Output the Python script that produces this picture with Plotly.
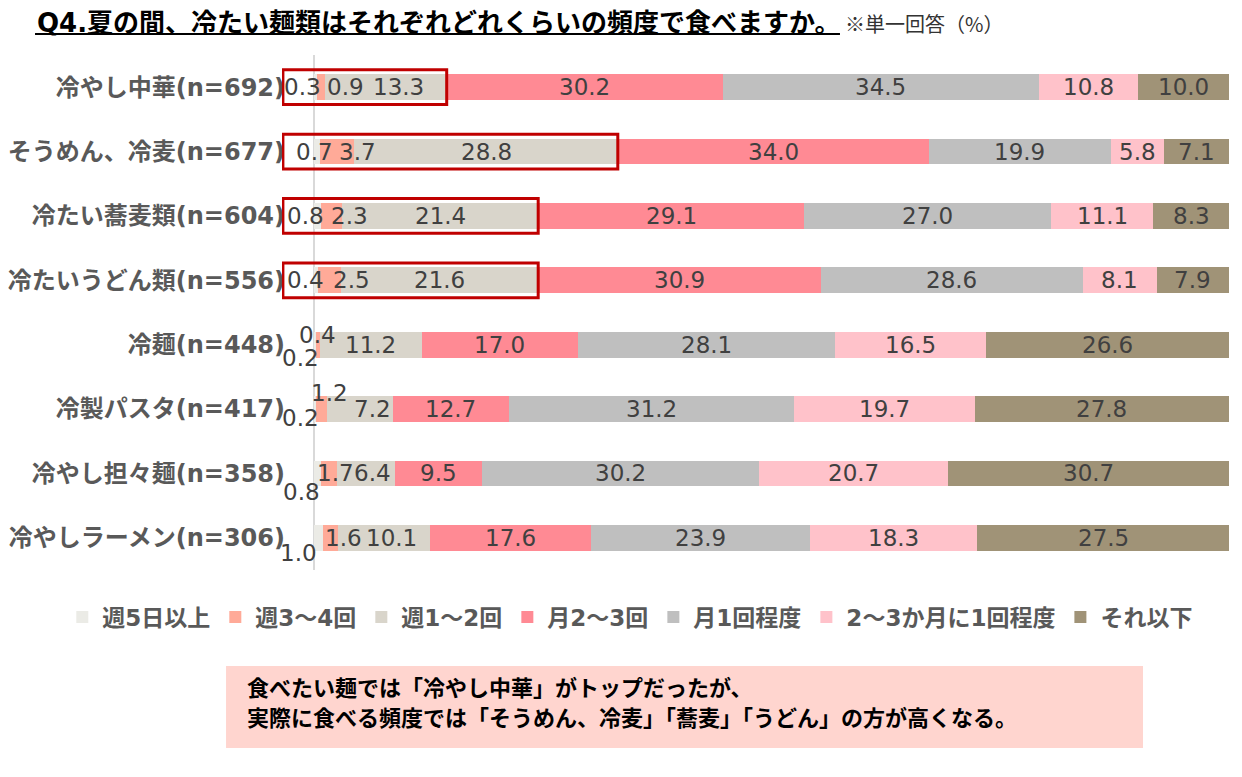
import plotly.graph_objects as go

# categories (top to bottom)
categories = [
    "冷やし中華(n=692)",
    "そうめん、冷麦(n=677)",
    "冷たい蕎麦類(n=604)",
    "冷たいうどん類(n=556)",
    "冷麺(n=448)",
    "冷製パスタ(n=417)",
    "冷やし担々麺(n=358)",
    "冷やしラーメン(n=306)",
]

series_names = ["週5日以上", "週3～4回", "週1～2回", "月2～3回",
                "月1回程度", "2～3か月に1回程度", "それ以下"]

week5 = [0.3, 0.7, 0.8, 0.4, 0.2, 0.2, 0.8, 1.0]
week3_4 = [0.9, 3.7, 2.3, 2.5, 0.4, 1.2, 1.7, 1.6]
week1_2 = [13.3, 28.8, 21.4, 21.6, 11.2, 7.2, 6.4, 10.1]
month2_3 = [30.2, 34.0, 29.1, 30.9, 17.0, 12.7, 9.5, 17.6]
month1 = [34.5, 19.9, 27.0, 28.6, 28.1, 31.2, 30.2, 23.9]
month_2_3 = [10.8, 5.8, 11.1, 8.1, 16.5, 19.7, 20.7, 18.3]
less = [10.0, 7.1, 8.3, 7.9, 26.6, 27.8, 30.7, 27.5]

series_values = [week5, week3_4, week1_2, month2_3, month1, month_2_3, less]

colors = ["#EBEBE6", "#FFAA98", "#D9D5CB", "#FF8A94",
          "#BFBFBF", "#FFC2CA", "#A09377"]

# rows with the red highlight box (first three series)
highlight_rows = [0, 1, 2, 3]

# label nudges for the small values (row, series): (xshift, yshift) px
label_shift = {
    (0, 0): (-13, 0), (0, 1): (25, 0), (0, 2): (13, 0),
    (1, 0): (-3, 0), (1, 1): (20, 0),
    (2, 0): (-12, 0), (2, 1): (18, 0),
    (3, 0): (-10, 0), (3, 1): (22, 0),
    (4, 0): (-14, -13), (4, 1): (0, 10),
    (5, 0): (-14, -9), (5, 1): (8, 16), (5, 2): (13, 0),
    (6, 0): (-16, -19), (6, 1): (6, 0), (6, 2): (6, 0),
    (7, 0): (-20, -15), (7, 1): (13, 0), (7, 2): (7, 0),
}

JP = "Noto Sans CJK JP"
MIX = "DejaVu Sans, Noto Sans CJK JP"

fig = go.Figure()
for name, vals, col in zip(series_names, series_values, colors):
    fig.add_trace(go.Bar(
        y=categories, x=vals, name=name, orientation="h",
        marker=dict(color=col, line=dict(width=0)),
        hovertemplate="%{y}<br>" + name + ": %{x}<extra></extra>",
    ))

# data labels
annotations = []
for r, cat in enumerate(categories):
    cum = 0.0
    for s, vals in enumerate(series_values):
        v = vals[r]
        dx, dy = label_shift.get((r, s), (0, 0))
        annotations.append(dict(
            x=cum + v / 2, y=r, xref="x", yref="y", text=f"{v:.1f}",
            showarrow=False, xshift=dx, yshift=dy,
            font=dict(family="DejaVu Sans", size=23, color="#404040"),
        ))
        cum += v

# title and note
annotations.append(dict(
    x=-0.2608, y=1.0621, xref="paper", yref="paper", xanchor="left",
    yanchor="middle", showarrow=False,
    text="<b>Q4.夏の間、冷たい麺類はそれぞれどれくらいの頻度で食べますか。</b>",
    font=dict(family=MIX, size=26, color="#000000"),
))
annotations.append(dict(
    x=0.5924, y=1.0621, xref="paper", yref="paper", xanchor="left",
    yanchor="middle", showarrow=False, text="※単一回答（%）",
    font=dict(family=JP, size=20, color="#333333"),
))

# comment box text
comment_lines = [
    "食べたい麺では「冷やし中華」がトップだったが、",
    "実際に食べる頻度では「そうめん、冷麦」「蕎麦」「うどん」の方が高くなる。",
]
for line, yy in zip(comment_lines, [-0.2252, -0.2835]):
    annotations.append(dict(
        x=-0.0391, y=yy, xref="paper", yref="paper", xanchor="left",
        yanchor="middle", showarrow=False, text="<b>" + line + "</b>",
        font=dict(family=JP, size=22, color="#000000"),
    ))

shapes = []
for r in highlight_rows:
    end = week5[r] + week3_4[r] + week1_2[r]
    shapes.append(dict(
        type="rect", xref="x", yref="y", x0=-3.4, x1=end,
        y0=r - 0.27, y1=r + 0.27,
        line=dict(color="#C00000", width=3), fillcolor="rgba(0,0,0,0)",
        layer="above",
    ))

# title underline
shapes.append(dict(
    type="line", xref="paper", yref="paper", x0=-0.2608, x1=0.5892,
    y0=1.0408, y1=1.0408, line=dict(color="#000000", width=2),
))
# comment box
shapes.append(dict(
    type="rect", xref="paper", yref="paper", x0=-0.0591, x1=0.9092,
    y0=-0.3456, y1=-0.1864, line=dict(width=0), fillcolor="#FFD5CF",
    layer="below",
))

fig.update_layout(
    barmode="stack",
    bargap=0.6,
    width=1242, height=777,
    margin=dict(l=274, r=21, t=47, b=215),
    paper_bgcolor="white", plot_bgcolor="white",
    font=dict(family=JP),
    showlegend=True,
    legend=dict(
        orientation="h", xref="paper", yref="paper",
        x=-0.232, xanchor="left", y=-0.0913, yanchor="middle",
        font=dict(family=MIX, size=23, color="#595959", weight="bold"),
        itemwidth=30, traceorder="normal",
    ),
    xaxis=dict(
        range=[-3.5, 100], showgrid=False, showticklabels=False,
        zeroline=True, zerolinecolor="#D9D9D9", zerolinewidth=1.5,
        fixedrange=True, automargin=False,
    ),
    yaxis=dict(
        autorange="reversed", showgrid=False, ticks="", automargin=False,
        tickfont=dict(family=MIX, size=24, color="#595959", weight="bold"),
        ticklabelstandoff=-4,
    ),
    annotations=annotations,
    shapes=shapes,
)

fig.write_html("out.html")
